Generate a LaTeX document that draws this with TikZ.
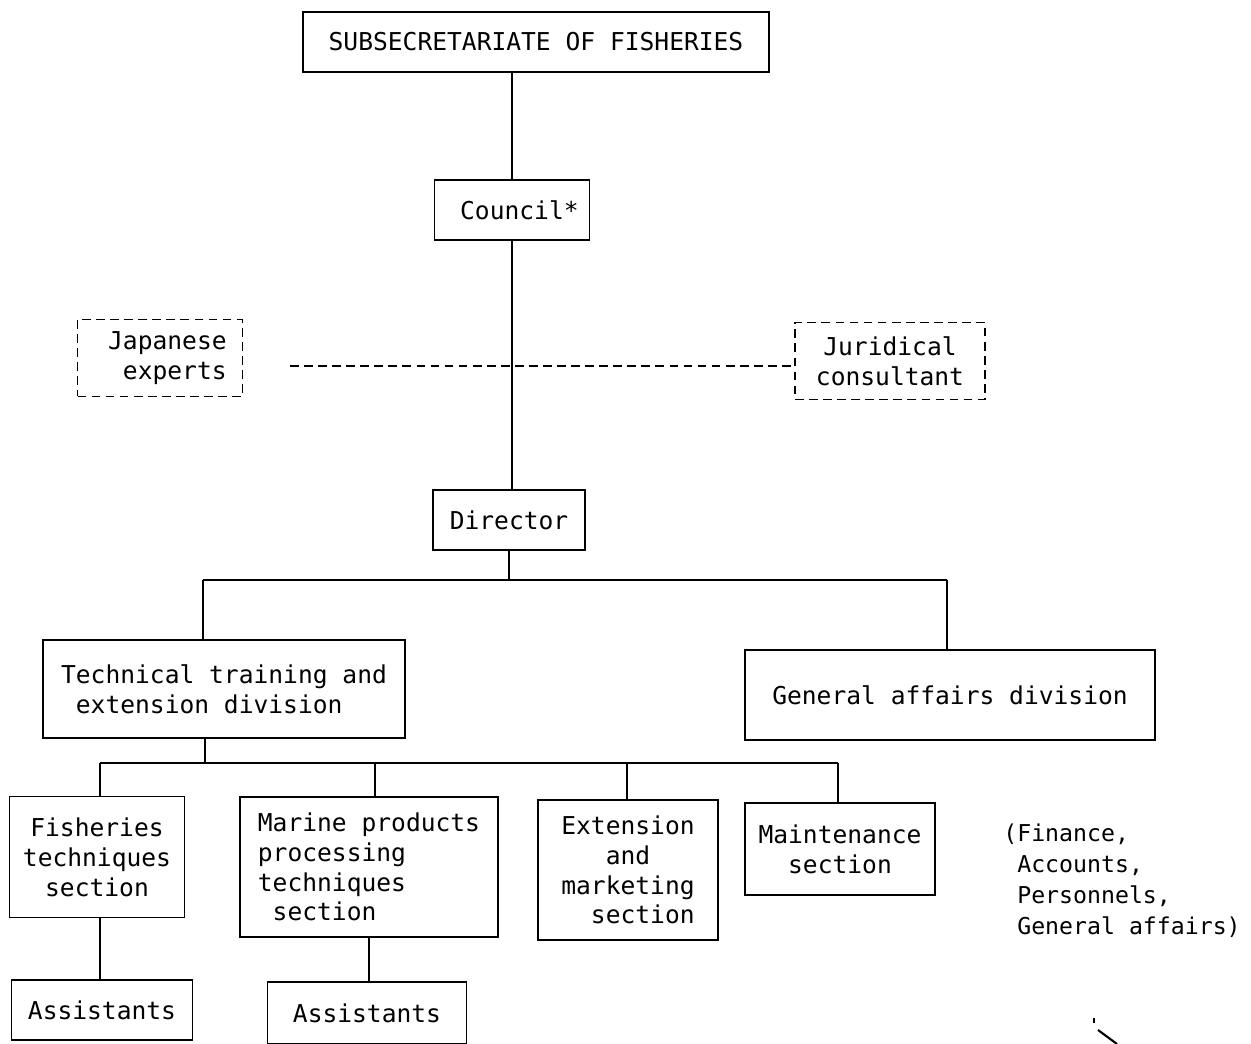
\documentclass[tikz,border=0pt]{standalone}
\usepackage{fontspec}
\setmonofont{DejaVu Sans Mono}
\usepackage{tikz}
\usetikzlibrary{positioning}

\begin{document}
\begin{tikzpicture}[
  x=0.02cm,y=-0.02cm,
  unit/.style={draw,line width=1pt,inner sep=2pt,font=\fontsize{14}{17}\selectfont\ttfamily},
  advisor/.style={unit,dashed,dash pattern=on 5pt off 3pt},
  link/.style={line width=1.1pt},
  note/.style={align=left,inner sep=0pt,font=\fontsize{13.2}{17.6}\selectfont\ttfamily}
]
\useasboundingbox (0,0) rectangle (1251,1044);
% top of the chart
\node[unit,minimum width=9.32cm,minimum height=1.2cm] (subsec) at (536,42) {SUBSECRETARIATE OF FISHERIES};
\node[unit,minimum width=3.1cm,minimum height=1.2cm] (council) at (512,210) {\ Council*};
\node[advisor,minimum width=3.3cm,minimum height=1.54cm,align=center] (japan) at (160,358) {\ Japanese\\ \ \ experts};
\node[advisor,minimum width=3.8cm,minimum height=1.54cm,align=center] (jurid) at (890,361) {Juridical\\consultant};
\node[unit,minimum width=3.04cm,minimum height=1.2cm] (director) at (509,520) {Director};
% divisions
\node[unit,minimum width=7.24cm,minimum height=1.96cm,align=left] (techdiv) at (224,689) {Technical training and\\ \ extension division};
\node[unit,minimum width=8.2cm,minimum height=1.8cm] (gendiv) at (950,695) {General affairs division};
% sections
\node[unit,minimum width=3.5cm,minimum height=2.42cm,align=center] (fishsec) at (97,857) {Fisheries\\techniques\\section};
\node[unit,minimum width=5.16cm,minimum height=2.8cm,align=left] (marsec) at (369,867) {Marine products\\processing\\techniques\\\ section};
\node[unit,minimum width=3.6cm,minimum height=2.8cm,align=center] (extsec) at (628,870) {Extension\\and\\marketing\\\ \ section};
\node[unit,minimum width=3.8cm,minimum height=1.84cm,align=center] (mainsec) at (840,849) {Maintenance\\section};
\node[unit,minimum width=3.62cm,minimum height=1.2cm] (assistA) at (102,1010) {Assistants};
\node[unit,minimum width=3.98cm,minimum height=1.24cm] (assistB) at (367,1013) {Assistants};
\node[note,anchor=north west] (gennote) at (1003,824) {(Finance,\\\ Accounts,\\\ Personnels,\\\ General affairs)};

% connectors
\draw[link] (council.north) -- (council.north |- subsec.south);
\draw[link] (council.south) -- (council.south |- director.north);
\coordinate (dashend) at (290,366);
\draw[link,dashed,dash pattern=on 5pt off 3pt] (dashend) -- (dashend -| jurid.west);

\coordinate (busL) at (203,580);
\coordinate (busR) at (947,580);
\draw[link] (director.south) -- (director.south |- busL);
\draw[link] (busL) -- (busR);
\draw[link] (busL) -- (busL |- techdiv.north);
\draw[link] (busR) -- (busR |- gendiv.north);

\coordinate (secA) at (100,763);
\coordinate (secB) at (375,763);
\coordinate (secC) at (627,763);
\coordinate (secD) at (838,763);
\coordinate (secT) at (205,763);
\draw[link] (secT) -- (secT |- techdiv.south);
\draw[link] (secA) -- (secD);
\draw[link] (secA) -- (secA |- fishsec.north);
\draw[link] (secB) -- (secB |- marsec.north);
\draw[link] (secC) -- (secC |- extsec.north);
\draw[link] (secD) -- (secD |- mainsec.north);

\draw[link] (secA |- fishsec.south) -- (secA |- assistA.north);
\draw[link] (marsec.south) -- (marsec.south |- assistB.north);

% stray mark
\draw[line width=1pt] (1094,1018) -- (1094,1023);
\draw[line width=1.2pt] (1098,1030) -- (1117,1044);
\end{tikzpicture}
\end{document}
